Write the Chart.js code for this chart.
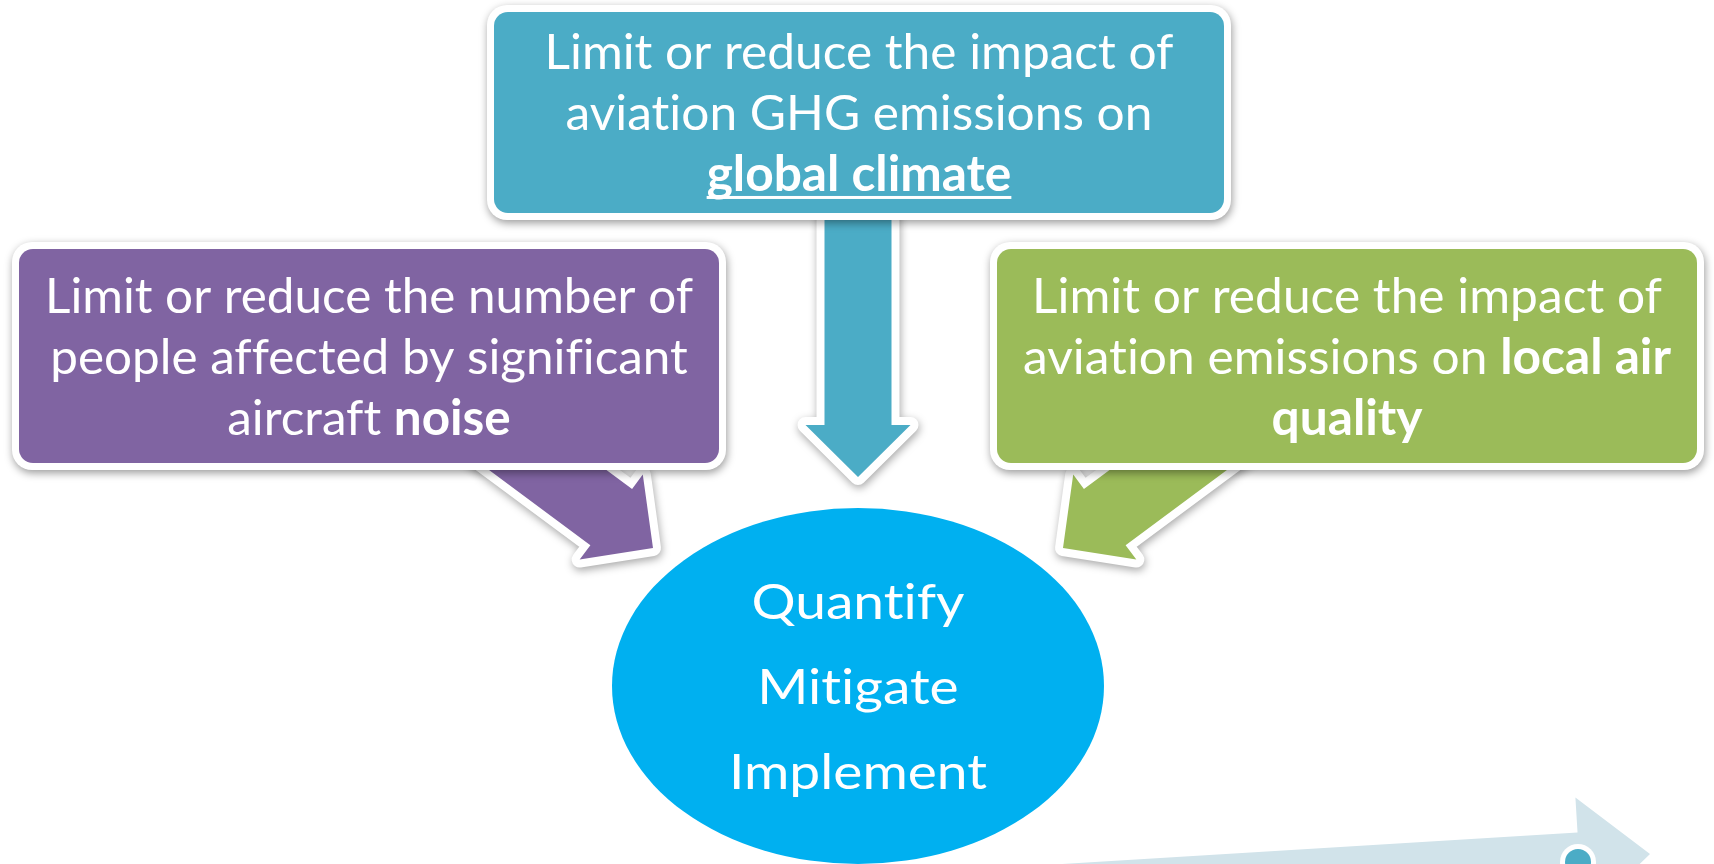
<!DOCTYPE html>
<html>
<head>
<meta charset="utf-8">
<script src="https://cdn.jsdelivr.net/npm/chart.js@4.4.0/dist/chart.umd.min.js"></script>
<style>
  html, body { margin: 0; padding: 0; background: #fff; overflow: hidden; }
  #wrap { width: 1714px; height: 864px; position: relative; }
</style>
</head>
<body>
<div id="wrap"><canvas id="diagram"></canvas></div>
<script>
// text of each shape; a line is a list of [text, style] runs (b = bold, u = underline)
const climateLines = [
  [["Limit or reduce the impact of", ""]],
  [["aviation GHG emissions on", ""]],
  [["global climate", "bu"]]
];
const noiseLines = [
  [["Limit or reduce the number of", ""]],
  [["people affected by significant", ""]],
  [["aircraft ", ""], ["noise", "b"]]
];
const airLines = [
  [["Limit or reduce the impact of", ""]],
  [["aviation emissions on ", ""], ["local air", "b"]],
  [["quality", "b"]]
];
const actionLines = ["Quantify", "Mitigate", "Implement"];

// layout, in canvas units (x 0..1714, y 0..864 from the top)
const boxes = [
  { lines: climateLines, x0: 494, x1: 1224, y0: 12,  y1: 213, color: "#4BACC6", fit: 629 },
  { lines: noiseLines,   x0: 19,  x1: 719,  y0: 249, y1: 463, color: "#8064A2", fit: 648 },
  { lines: airLines,     x0: 997, x1: 1697, y0: 249, y1: 463, color: "#9BBB59", fit: 648 }
];
const arrows = [
  { tail: [858, 150],  tip: [858, 477],  shaft: 33.5, wing: 52.5, head: 52, color: "#4BACC6", border: true },
  { tail: [452, 399],  tip: [653, 548],  shaft: 35,   wing: 53,   head: 52, color: "#8064A2", border: true },
  { tail: [1264, 399], tip: [1063, 548], shaft: 35,   wing: 53,   head: 52, color: "#9BBB59", border: true },
  { tail: [900, 900],  tip: [1650, 854], shaft: 26,   wing: 61,   head: 71, color: "#D1E3EA", border: false }
];
const hub = { cx: 858, cy: 686, rx: 246, ry: 178, color: "#00B0F0", fit: 258, gap: 85 };
const dot = { cx: 1578, cy: 862, r: 13, color: "#4BACC6" };

const FONT = 'Lato, "Open Sans", sans-serif';
const SIZE = 49;
// zero-width non-joiners keep Lato from forming its "ti"/"fi" ligatures
const noLig = s => s.split("").join("\u200C");

function arrowPath(ctx, a, px, py) {
  const [tx, ty] = a.tail, [hx, hy] = a.tip;
  const len = Math.hypot(hx - tx, hy - ty);
  const ux = (hx - tx) / len, uy = (hy - ty) / len, nx = -uy, ny = ux;
  const bx = hx - ux * a.head, by = hy - uy * a.head;
  const pts = [
    [tx + nx * a.shaft, ty + ny * a.shaft], [bx + nx * a.shaft, by + ny * a.shaft],
    [bx + nx * a.wing, by + ny * a.wing], [hx, hy],
    [bx - nx * a.wing, by - ny * a.wing], [bx - nx * a.shaft, by - ny * a.shaft],
    [tx - nx * a.shaft, ty - ny * a.shaft]
  ];
  ctx.beginPath();
  pts.forEach((p, i) => i ? ctx.lineTo(px(p[0]), py(p[1])) : ctx.moveTo(px(p[0]), py(p[1])));
  ctx.closePath();
}

function drawLines(ctx, lines, cx, cy, gap, fit) {
  const font = r => (r[1].includes("b") ? "bold " : "") + SIZE + "px " + FONT;
  const runW = r => { ctx.font = font(r); return ctx.measureText(noLig(r[0])).width; };
  const widths = lines.map(l => l.reduce((s, r) => s + runW(r), 0));
  const sx = fit / Math.max(...widths);
  const cap = SIZE * 0.717;
  ctx.fillStyle = "#fff";
  ctx.textBaseline = "alphabetic";
  ctx.textAlign = "left";
  lines.forEach((line, i) => {
    const base = cy + (i - (lines.length - 1) / 2) * gap + cap / 2;
    let xx = cx - widths[i] * sx / 2;
    line.forEach(r => {
      const w = runW(r);
      ctx.save();
      ctx.translate(xx, base);
      ctx.scale(sx, 1);
      ctx.font = font(r);
      ctx.fillText(noLig(r[0]), 0, 0);
      if (r[1].includes("u")) ctx.fillRect(0, SIZE * 0.1, w, 3);
      ctx.restore();
      xx += w * sx;
    });
  });
}

const diagramPlugin = {
  id: "diagram",
  afterDatasetsDraw(chart) {
    const { ctx, scales: { x, y } } = chart;
    const px = v => x.getPixelForValue(v), py = v => y.getPixelForValue(v);
    ctx.save();
    ctx.lineJoin = "round";

    // arrows sit behind the boxes
    arrows.forEach(a => {
      if (a.border) {
        ctx.save();
        ctx.shadowColor = "rgba(0,0,0,0.35)";
        ctx.shadowBlur = 8; ctx.shadowOffsetX = 1; ctx.shadowOffsetY = 3;
        arrowPath(ctx, a, px, py);
        ctx.strokeStyle = "#fff"; ctx.lineWidth = 16; ctx.stroke();
        ctx.restore();
      }
      arrowPath(ctx, a, px, py);
      ctx.fillStyle = a.color; ctx.fill();
    });

    // little marker on the pale arrow
    ctx.beginPath();
    ctx.arc(px(dot.cx), py(dot.cy), dot.r + 5, 0, Math.PI * 2);
    ctx.fillStyle = "#fff"; ctx.fill();
    ctx.beginPath();
    ctx.arc(px(dot.cx), py(dot.cy), dot.r, 0, Math.PI * 2);
    ctx.fillStyle = dot.color; ctx.fill();

    // goal boxes
    boxes.forEach(b => {
      const x0 = px(b.x0), y0 = py(b.y0), w = px(b.x1) - x0, h = py(b.y1) - y0;
      ctx.save();
      ctx.shadowColor = "rgba(0,0,0,0.4)";
      ctx.shadowBlur = 9; ctx.shadowOffsetX = 1; ctx.shadowOffsetY = 3;
      ctx.beginPath(); ctx.roundRect(x0 - 7, y0 - 7, w + 14, h + 14, 20);
      ctx.fillStyle = "#fff"; ctx.fill();
      ctx.restore();
      ctx.beginPath(); ctx.roundRect(x0, y0, w, h, 14);
      ctx.fillStyle = b.color; ctx.fill();
      drawLines(ctx, b.lines, (x0 + x0 + w) / 2, (y0 + y0 + h) / 2, 61, b.fit);
    });

    // central ellipse
    ctx.beginPath();
    ctx.ellipse(px(hub.cx), py(hub.cy), px(hub.cx + hub.rx) - px(hub.cx), py(hub.cy + hub.ry) - py(hub.cy), 0, 0, Math.PI * 2);
    ctx.fillStyle = hub.color; ctx.fill();
    drawLines(ctx, actionLines.map(t => [[t, ""]]), px(hub.cx), py(hub.cy), hub.gap, hub.fit);

    ctx.restore();
  }
};

new Chart(document.getElementById("diagram"), {
  type: "scatter",
  data: {
    datasets: [{
      label: "nodes",
      data: boxes.map(b => ({ x: (b.x0 + b.x1) / 2, y: (b.y0 + b.y1) / 2 })).concat([{ x: hub.cx, y: hub.cy }]),
      pointRadius: 0
    }]
  },
  options: {
    responsive: true,
    maintainAspectRatio: false,
    animation: false,
    layout: { padding: 0 },
    plugins: { legend: { display: false }, tooltip: { enabled: false } },
    scales: {
      x: { type: "linear", min: 0, max: 1714, display: false },
      y: { type: "linear", min: 0, max: 864, reverse: true, display: false }
    }
  },
  plugins: [diagramPlugin]
});
</script>
</body>
</html>
